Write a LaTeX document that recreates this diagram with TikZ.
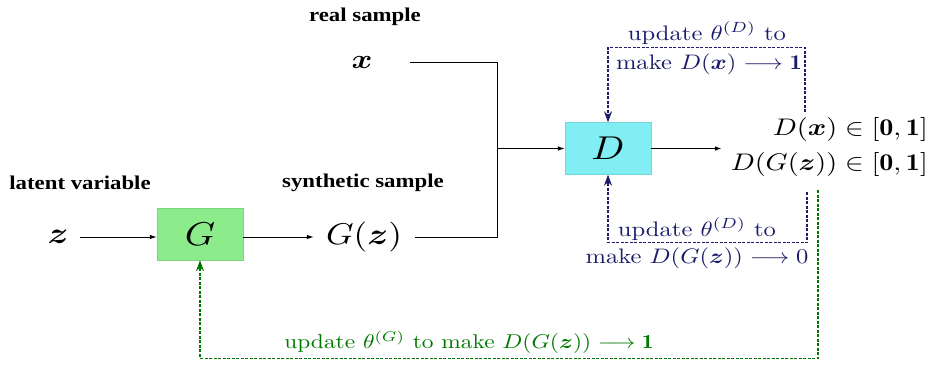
\documentclass[tikz,border=0pt]{standalone}
\usepackage{fontspec}
\usepackage{bm}
\usepackage{graphicx}
\usetikzlibrary{arrows.meta,calc}
\newfontfamily\lblfont{Liberation Serif}
% scale 10pt text to size #1 (vertical), stretched 1.17 horizontally
\newcommand{\sz}[2]{\scalebox{\fpeval{1.17*#1/10}}[\fpeval{#1/10}]{#2}}
\definecolor{navy}{RGB}{28,28,105}
\definecolor{dgreen}{RGB}{0,120,0}
\definecolor{dfill}{RGB}{128,238,242}
\definecolor{gfill}{RGB}{140,236,140}
\tikzset{
  lbl/.style={font=\lblfont\bfseries, inner sep=1pt},
  mth/.style={inner sep=2pt},
  outlbl/.style={inner sep=1pt, anchor=east},
  fblbl/.style={inner sep=1pt},
  boxnode/.style={minimum width=86pt, minimum height=52pt, inner sep=0pt},
  plain/.style={line width=0.9pt, black},
  arr/.style={plain, -{Latex[length=7pt,width=4.5pt]}},
  bfb/.style={navy, line width=1.2pt, dash pattern=on 3pt off 1.5pt, -{Stealth[length=11pt,width=8pt]}},
  gfb/.style={dgreen, line width=1.2pt, dash pattern=on 3pt off 1.5pt, -{Stealth[length=11pt,width=8pt]}},
}
\begin{document}
\begin{tikzpicture}[x=1pt,y=-1pt]
\useasboundingbox (0,0) rectangle (934,364);
% labels
\node[lbl] (rs) at (365,17) {\sz{19.5}{real sample}};
\node[lbl] (lv) at (80,183) {\sz{19.5}{latent variable}};
\node[lbl] (ss) at (363,183) {\sz{19.5}{synthetic sample}};
% math nodes
\node[mth] (x) at (362,62) {\sz{27}{$\bm{x}$}};
\node[mth] (z) at (58,237) {\sz{30}{$\bm{z}$}};
\node[mth] (Gz) at (364,237) {\sz{30}{$G(\bm{z})$}};
% boxes
\node[boxnode, fill=gfill, draw=gfill!90!black, line width=0.4pt] (G) at (200,234) {\sz{33}{$G$}};
\node[boxnode, fill=dfill, draw=dfill!90!black, line width=0.4pt] (D) at (608,148.5) {\sz{33}{$D$}};
% outputs
\node[outlbl] (o1) at (929,129) {\sz{24}{$D(\bm{x})\in[\mathbf{0},\mathbf{1}]$}};
\node[outlbl] (o2) at (929,164) {\sz{24}{$D(G(\bm{z}))\in[\mathbf{0},\mathbf{1}]$}};
% junction and connectors
\coordinate (j) at (497,148.5);
\coordinate (out) at (722,148.5);
\draw[plain] ([xshift=48pt]x.center) -| (j);
\draw[plain] ([xshift=51pt]Gz.center) -| (j);
\draw[arr] (j) -- (D.west);
\draw[arr, line width=1.8pt] (D.east) -- (out);
\draw[arr, shorten <=9pt] (z.east) -- (z.east -| G.west);
\draw[arr, shorten >=10pt] (G.east |- Gz.west) -- (Gz.west);
% feedback loops
\coordinate (t1) at (805,112);
\coordinate (b1) at (807,192);
\coordinate (g1) at (818,190);
\draw[bfb] (t1) |- ($(D.north)+(0,-75)$) -- (D.north);
\draw[bfb] (b1) |- ($(D.south)+(0,68)$) -- (D.south);
\draw[gfb] (g1) |- ($(G.south)+(0,98)$) -- (G.south);
% feedback labels
\node[fblbl, text=navy] (tl1) at (707,33) {\sz{21}{update $\theta^{(D)}$ to}};
\node[fblbl, text=navy] (tl2) at (709,64) {\sz{21}{make $D(\bm{x})\longrightarrow\mathbf{1}$}};
\node[fblbl, text=navy] (bl1) at (697,229) {\sz{21}{update $\theta^{(D)}$ to}};
\node[fblbl, text=navy] (bl2) at (697,258) {\sz{21}{make $D(G(\bm{z}))\longrightarrow 0$}};
\node[fblbl, text=dgreen] (gl) at (469,342) {\sz{20}{update $\theta^{(G)}$ to make $D(G(\bm{z}))\longrightarrow\mathbf{1}$}};
\end{tikzpicture}
\end{document}
